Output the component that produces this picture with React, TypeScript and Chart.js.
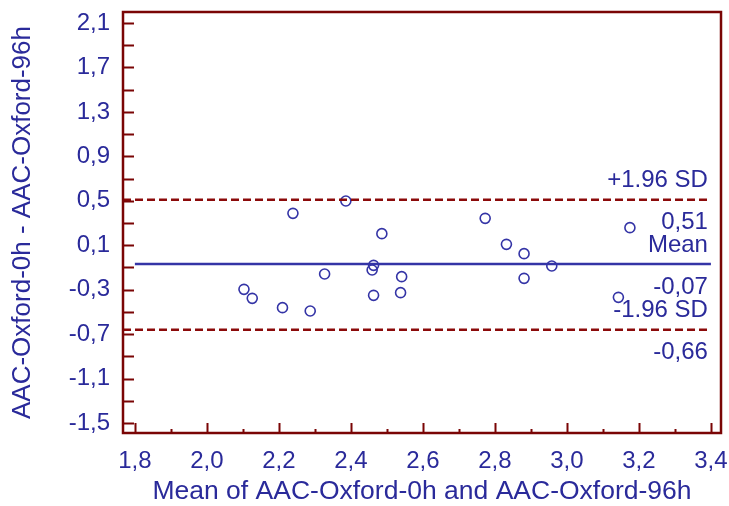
import React, { useEffect, useRef } from "react";
import { Chart, registerables } from "chart.js";

Chart.register(...registerables);

// ---- data ----
const meanValues: number[] = [2.103, 2.126, 2.210, 2.287, 2.239, 2.327, 2.386, 2.486, 2.463, 2.459, 2.463, 2.541, 2.538, 2.773, 2.832, 2.881, 2.881, 2.958, 3.175, 3.143];
const diffValues: number[] = [-0.297, -0.378, -0.462, -0.492, 0.387, -0.159, 0.498, 0.204, -0.081, -0.123, -0.351, -0.183, -0.327, 0.342, 0.108, 0.024, -0.198, -0.087, 0.258, -0.369];

const MEAN_DIFF = -0.07;
const UPPER_LOA = 0.51;
const LOWER_LOA = -0.66;

const X_TICKS: number[] = [1.8, 2.0, 2.2, 2.4, 2.6, 2.8, 3.0, 3.2, 3.4];
const X_MINOR: number[] = [1.9, 2.1, 2.3, 2.5, 2.7, 2.9, 3.1, 3.3];
const Y_TICKS: number[] = [2.1, 1.7, 1.3, 0.9, 0.5, 0.1, -0.3, -0.7, -1.1, -1.5];
const Y_MINOR: number[] = [1.9, 1.5, 1.1, 0.7, 0.3, -0.1, -0.5, -0.9, -1.3];

const X_MIN = 1.767;
const X_MAX = 3.428;
const Y_MIN = -1.59;
const Y_MAX = 2.199;

const X_TITLE = "Mean of AAC-Oxford-0h and AAC-Oxford-96h";
const Y_TITLE = "AAC-Oxford-0h - AAC-Oxford-96h";

const FONT = "'Liberation Sans', Arial, sans-serif";
const TEXT_COLOR = "#2a2a9a";
const FRAME_COLOR = "#7a0505";
const RED = "#8b0a0a";
const BLUE = "#3434a6";

const fmt = (v: number) => v.toFixed(1).replace(".", ",");
const fmt2 = (v: number) => v.toFixed(2).replace(".", ",");

const zeroPad = (s: any) => {
  s.paddingTop = 0;
  s.paddingBottom = 0;
  s.paddingLeft = 0;
  s.paddingRight = 0;
};

const framePlugin = {
  id: "frameAndLabels",
  afterDraw(chart: any) {
    const { ctx, chartArea, scales } = chart;
    const xs = scales.x;
    const ys = scales.y;
    ctx.save();
    // frame
    ctx.strokeStyle = FRAME_COLOR;
    ctx.lineWidth = 2.5;
    ctx.strokeRect(chartArea.left, chartArea.top, chartArea.right - chartArea.left, chartArea.bottom - chartArea.top);
    // ticks
    ctx.lineWidth = 2;
    ctx.beginPath();
    for (const v of X_TICKS) {
      const px = Math.round(xs.getPixelForValue(v)) + 0.5;
      ctx.moveTo(px, chartArea.bottom);
      ctx.lineTo(px, chartArea.bottom - 10);
    }
    for (const v of X_MINOR) {
      const px = Math.round(xs.getPixelForValue(v)) + 0.5;
      ctx.moveTo(px, chartArea.bottom);
      ctx.lineTo(px, chartArea.bottom - 4);
    }
    for (const v of [...Y_TICKS, ...Y_MINOR]) {
      const py = Math.round(ys.getPixelForValue(v)) + 0.5;
      ctx.moveTo(chartArea.left, py);
      ctx.lineTo(chartArea.left + 11, py);
    }
    ctx.stroke();
    // line labels
    ctx.fillStyle = TEXT_COLOR;
    ctx.font = `24px ${FONT}`;
    ctx.textAlign = "right";
    ctx.textBaseline = "middle";
    const rx = xs.getPixelForValue(3.4) - 3;
    const labels: [number, string, string][] = [
      [UPPER_LOA, "+1.96 SD", fmt2(UPPER_LOA)],
      [MEAN_DIFF, "Mean", fmt2(MEAN_DIFF)],
      [LOWER_LOA, "-1.96 SD", fmt2(LOWER_LOA)],
    ];
    for (const [v, above, below] of labels) {
      const py = ys.getPixelForValue(v);
      ctx.fillText(above, rx, py - 19);
      ctx.fillText(below, rx, py + 23);
    }
    ctx.restore();
  },
};

export default function App() {
  const ref = useRef<HTMLCanvasElement | null>(null);

  useEffect(() => {
    if (!ref.current) return;
    const points = meanValues.map((x, i) => ({ x, y: diffValues[i] }));
    const chart = new Chart(ref.current, {
      type: "scatter",
      data: {
        datasets: [
          {
            type: "line",
            data: [{ x: X_MIN, y: UPPER_LOA }, { x: 3.4, y: UPPER_LOA }],
            borderColor: RED,
            borderWidth: 2.5,
            borderDash: [8, 4],
            pointRadius: 0,
            fill: false,
          } as any,
          {
            type: "line",
            data: [{ x: X_MIN, y: LOWER_LOA }, { x: 3.4, y: LOWER_LOA }],
            borderColor: RED,
            borderWidth: 2.5,
            borderDash: [8, 4],
            pointRadius: 0,
            fill: false,
          } as any,
          {
            type: "line",
            data: [{ x: 1.8, y: MEAN_DIFF }, { x: 3.4, y: MEAN_DIFF }],
            borderColor: BLUE,
            borderWidth: 2.5,
            pointRadius: 0,
            fill: false,
          } as any,
          {
            data: points,
            pointStyle: "circle",
            pointRadius: 5,
            borderColor: BLUE,
            borderWidth: 1.6,
            backgroundColor: "rgba(0,0,0,0)",
          },
        ],
      },
      options: {
        responsive: false,
        animation: false,
        events: [],
        layout: { padding: { top: 12, right: 8, left: 0, bottom: 0 } },
        plugins: { legend: { display: false }, tooltip: { enabled: false } },
        scales: {
          x: {
            type: "linear",
            min: X_MIN,
            max: X_MAX,
            afterBuildTicks: (s: any) => {
              s.ticks = X_TICKS.map((v) => ({ value: v }));
            },
            afterFit: (s: any) => {
              s.height = 73;
              zeroPad(s);
            },
            grid: { display: false, drawTicks: false },
            border: { display: false },
            ticks: {
              callback: (v: any) => fmt(Number(v)),
              color: TEXT_COLOR,
              font: { family: FONT, size: 24 },
              padding: 14,
              maxRotation: 0,
              autoSkip: false,
            },
            title: {
              display: true,
              text: X_TITLE,
              color: TEXT_COLOR,
              font: { family: FONT, size: 26.5 },
              padding: { top: 0, bottom: -2 },
            },
          },
          y: {
            type: "linear",
            min: Y_MIN,
            max: Y_MAX,
            afterBuildTicks: (s: any) => {
              s.ticks = Y_TICKS.map((v) => ({ value: v }));
            },
            afterFit: (s: any) => {
              s.width = 123;
              zeroPad(s);
            },
            grid: { display: false, drawTicks: false },
            border: { display: false },
            ticks: {
              callback: (v: any) => fmt(Number(v)),
              color: TEXT_COLOR,
              font: { family: FONT, size: 24 },
              padding: 13,
              autoSkip: false,
            },
            title: {
              display: true,
              text: Y_TITLE,
              color: TEXT_COLOR,
              font: { family: FONT, size: 26 },
              padding: { top: 7, bottom: 0 },
            },
          },
        },
      },
      plugins: [framePlugin],
    } as any);
    return () => chart.destroy();
  }, []);

  return (
    <div style={{ position: "fixed", left: 0, top: 0, width: 729, height: 506, background: "#fff" }}>
      <canvas ref={ref} width={729} height={506} style={{ display: "block" }} />
    </div>
  );
}
